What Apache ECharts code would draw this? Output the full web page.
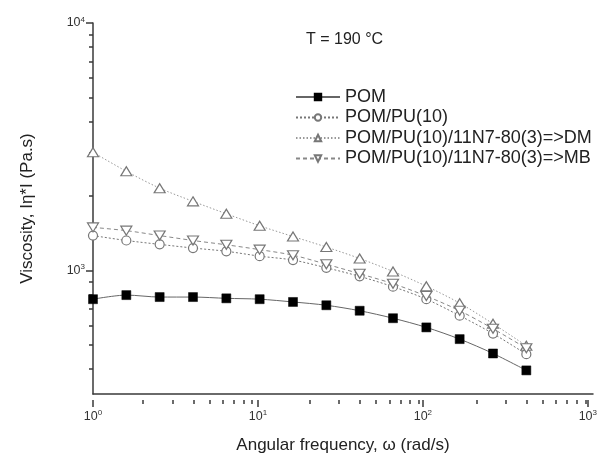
<!DOCTYPE html>
<html>
<head>
<meta charset="utf-8">
<script src="https://cdn.jsdelivr.net/npm/echarts@6/dist/echarts.min.js"></script>
<style>html,body{margin:0;padding:0;background:#fff;}#c{width:600px;height:459px;}</style>
</head>
<body>
<div id="c"></div>
<script>
// Data
var freq = [1, 1.585, 2.512, 3.981, 6.31, 10, 15.85, 25.12, 39.81, 63.1, 100, 158.5, 251.2, 398.1];
var pom = [735, 764, 750, 750, 741, 735, 716, 694, 659, 614, 563, 504, 440, 375];
var pomPu = [1341, 1280, 1234, 1192, 1156, 1104, 1064, 989, 912, 827, 735, 629, 531, 437];
var pomDM = [2946, 2462, 2099, 1853, 1648, 1471, 1329, 1203, 1080, 955, 831, 708, 583, 473];
var pomMB = [1449, 1405, 1341, 1280, 1229, 1174, 1114, 1023, 935, 851, 757, 659, 556, 462];
var seriesNames = ['POM', 'POM/PU(10)', 'POM/PU(10)/11N7-80(3)=>DM', 'POM/PU(10)/11N7-80(3)=>MB'];
var xRange = [1, 1000];
var yRange = [300, 10000];
var xMajor = [1, 10, 100, 1000];
var xMinor = [2,3,4,5,6,7,8,9,20,30,40,50,60,70,80,90,200,300,400,500,600,700,800,900];
var yMajor = [1000, 10000];
var yMinor = [400,500,600,700,800,900,2000,3000,4000,5000,6000,7000,8000,9000];

function pairs(xs, ys){ return xs.map(function(x,i){ return [x, ys[i]]; }); }
function lg(arr){ return arr.map(function(v){ return Math.log10(v); }); }
function powLabel(e){ return '{n|10}{s|' + Math.round(e) + '}'; }

var chart = echarts.init(document.getElementById('c'));
var txt = '#222';
var axisCol = '#3a3a3a';
var labelRich = {
  n: { fontSize: 12.5, color: '#333', fontFamily: 'Liberation Sans' },
  s: { fontSize: 8, verticalAlign: 'top', padding: [0,0,7,0], color: '#333', fontFamily: 'Liberation Sans' }
};
var gridBox = { left: 93, right: 7, top: 23, bottom: 59, containLabel: false };

function tickXAxis(gi, vals, len, withLabels){
  return {
    gridIndex: gi, type: 'value', min: Math.log10(xRange[0]), max: Math.log10(xRange[1]),
    axisLine: { show: false },
    axisTick: { show: true, length: len, customValues: lg(vals), lineStyle: { color: axisCol, width: 1.5 } },
    axisLabel: withLabels ? { show: true, customValues: lg(vals), formatter: powLabel, fontSize: 12.5, margin: 9, rich: labelRich } : { show: false },
    splitLine: { show: false }
  };
}
function tickYAxis(gi, vals, len, withLabels){
  return {
    gridIndex: gi, type: 'value', min: Math.log10(yRange[0]), max: Math.log10(yRange[1]),
    axisLine: { show: false },
    axisTick: { show: true, length: len, customValues: lg(vals), lineStyle: { color: axisCol, width: 1.5 } },
    axisLabel: withLabels ? { show: true, customValues: lg(vals), formatter: powLabel, fontSize: 12.5, margin: 8, rich: labelRich } : { show: false },
    splitLine: { show: false }
  };
}

var option = {
  backgroundColor: '#fff',
  animation: false,
  textStyle: { fontFamily: 'Liberation Sans' },
  title: {
    text: 'T = 190 °C', left: 301, top: 27,
    textStyle: { fontSize: 16, fontWeight: 'normal', color: txt, fontFamily: 'Liberation Sans' }
  },
  legend: {
    orient: 'vertical', left: 290, top: 83,
    itemWidth: 44, itemHeight: 8, itemGap: 2.5,
    textStyle: { fontSize: 18, color: txt, lineHeight: 18, fontFamily: 'Liberation Sans' },
    data: seriesNames
  },
  grid: [gridBox, gridBox, gridBox],
  xAxis: [{
    gridIndex: 0, type: 'log', logBase: 10, min: xRange[0], max: xRange[1],
    name: 'Angular frequency, ω (rad/s)', nameLocation: 'middle', nameGap: 43,
    nameTextStyle: { fontSize: 17, color: txt, fontFamily: 'Liberation Sans' },
    axisLine: { show: true, lineStyle: { color: axisCol, width: 1.5 } },
    axisTick: { show: false }, axisLabel: { show: false },
    splitLine: { show: false }, minorTick: { show: false }
  }, tickXAxis(1, xMajor, 7, true), tickXAxis(2, xMinor, 4, false)],
  yAxis: [{
    gridIndex: 0, type: 'log', logBase: 10, min: yRange[0], max: yRange[1],
    name: 'Viscosity, Iη*I (Pa.s)', nameLocation: 'middle', nameGap: 57,
    nameTextStyle: { fontSize: 17, color: txt, fontFamily: 'Liberation Sans' },
    axisLine: { show: true, lineStyle: { color: axisCol, width: 1.5 } },
    axisTick: { show: false }, axisLabel: { show: false },
    splitLine: { show: false }, minorTick: { show: false }
  }, tickYAxis(1, yMajor, 7, true), tickYAxis(2, yMinor, 4, false)],
  series: [{
    name: seriesNames[0], type: 'line', smooth: 0.3,
    data: pairs(freq, pom),
    symbol: 'rect', symbolSize: 9,
    itemStyle: { color: '#000', borderColor: '#000', borderWidth: 0.5 },
    lineStyle: { color: '#666', width: 1, type: 'solid' }, z: 5
  }, {
    name: seriesNames[1], type: 'line', smooth: 0.3,
    data: pairs(freq, pomPu),
    symbol: 'circle', symbolSize: 9,
    itemStyle: { color: '#fff', borderColor: '#777', borderWidth: 1.2 },
    lineStyle: { color: '#777', width: 1, type: [2, 2] }, z: 3
  }, {
    name: seriesNames[2], type: 'line', smooth: 0.3,
    data: pairs(freq, pomDM),
    symbol: 'triangle', symbolSize: [11, 9],
    itemStyle: { color: '#fff', borderColor: '#777', borderWidth: 1.2 },
    lineStyle: { color: '#999', width: 1, type: [1.5, 2] }, z: 2
  }, {
    name: seriesNames[3], type: 'line', smooth: 0.3,
    data: pairs(freq, pomMB),
    symbol: 'triangle', symbolRotate: 180, symbolSize: [11, 9],
    itemStyle: { color: '#fff', borderColor: '#777', borderWidth: 1.2 },
    lineStyle: { color: '#888', width: 1, type: [4, 3] }, z: 4
  }]
};
chart.setOption(option);
</script>
</body>
</html>
